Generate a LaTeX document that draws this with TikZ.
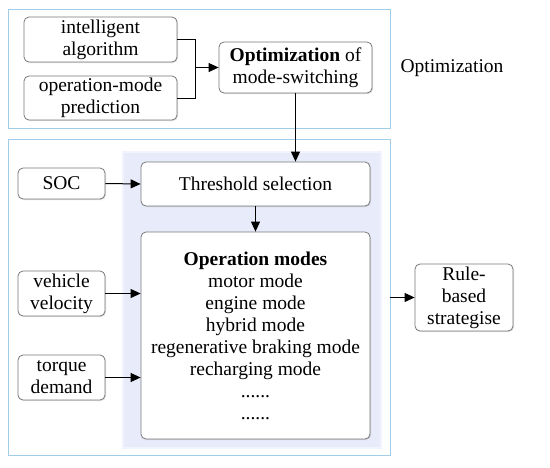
\documentclass[tikz,border=0pt]{standalone}
\usepackage{fontspec}
\setmainfont{Liberation Serif}
\usetikzlibrary{arrows.meta,shadows}
\definecolor{outerblue}{RGB}{160,205,232}
\definecolor{shadeblue}{RGB}{232,236,250}
\definecolor{boxgray}{RGB}{120,120,120}
\begin{document}
\begin{tikzpicture}[x=1pt,y=-1pt,
  box/.style={draw=boxgray, rounded corners=5pt, fill=white, line width=0.8pt,
    align=center, inner sep=0pt, font=\fontsize{19.5}{22}\selectfont,
    drop shadow={opacity=0.25, shadow xshift=1pt, shadow yshift=-1pt}},
  outer/.style={draw=outerblue, line width=0.9pt, inner sep=0pt},
  conn/.style={line width=1pt, -{Triangle[length=10pt,width=9pt]}},
  plain/.style={line width=1pt}]
\useasboundingbox (0,0) rectangle (550,467);
% outer frames
\node[outer, minimum width=382pt, minimum height=119pt] (upper) at (199,68.5) {};
\node[outer, minimum width=382pt, minimum height=316pt] (lower) at (199,297) {};
% shaded area
\fill[shadeblue!60] (122,151) rectangle (382,449);
\fill[shadeblue] (124,153) rectangle (380,447);
% upper boxes
\node[box, minimum width=153pt, minimum height=45pt] (ia) at (100.5,39.5) {intelligent\\algorithm};
\node[box, minimum width=153pt, minimum height=44pt] (omp) at (100.5,98) {operation-mode\\prediction};
\node[box, minimum width=153pt, minimum height=51pt] (opt) at (295.5,67.5) {\textbf{Optimization} of\\mode-switching};
\node[font=\fontsize{19.5}{22}\selectfont] (optlab) at (452,68) {Optimization};
% lower boxes
\node[box, minimum width=229pt, minimum height=44pt] (thr) at (255.5,184) {Threshold selection};
\node[box, minimum width=87pt, minimum height=31pt] (soc) at (61.5,183.5) {SOC};
\node[box, minimum width=87pt, minimum height=45pt] (vv) at (61.5,293.5) {vehicle\\velocity};
\node[box, minimum width=87pt, minimum height=45pt] (td) at (61.5,377.5) {torque\\demand};
\node[box, minimum width=229pt, minimum height=207pt, font=\fontsize{19.5}{22}\selectfont] (om) at (255.5,335.5)
  {\textbf{Operation modes}\\motor mode\\engine mode\\hybrid mode\\regenerative braking mode\\recharging mode\\......\\......};
\node[box, minimum width=98pt, minimum height=67pt] (rb) at (464,297.5) {Rule-\\based\\strategise};
% connectors
\coordinate (j) at (195,67.5);
\draw[plain] (ia.east) -| (j);
\draw[plain] (omp.east) -| (j);
\draw[conn] (j) -- (opt.west);
\draw[conn] (opt.south) -- (opt.south |- thr.north);
\draw[conn] (soc.east) -- (thr.west);
\draw[conn] (thr.south) -- (om.north);
\draw[conn] (vv.east) -- (om.west |- vv.east);
\draw[conn] (td.east) -- (om.west |- td.east);
\draw[conn] (lower.east |- rb.west) -- (rb.west);
\end{tikzpicture}
\end{document}
